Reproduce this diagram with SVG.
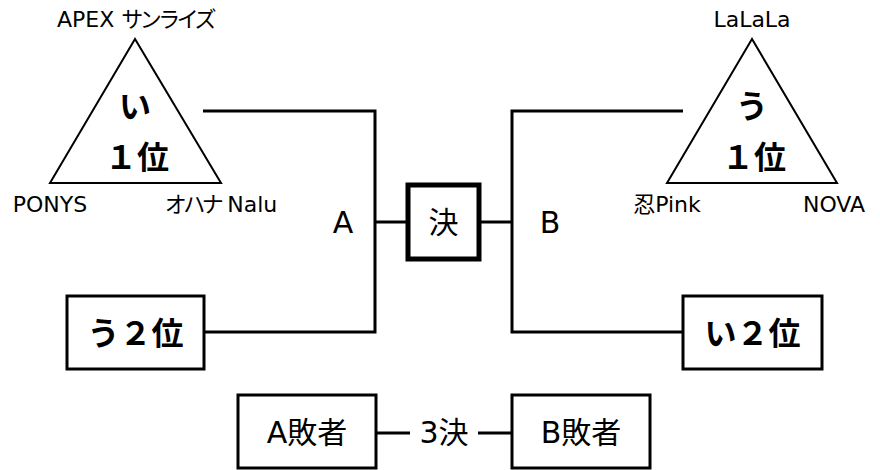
<svg xmlns="http://www.w3.org/2000/svg" width="880" height="470" viewBox="0 0 880 470">
<style>
text{font-family:"DejaVu Sans","Noto Sans CJK JP",sans-serif;fill:#000;text-anchor:middle;dominant-baseline:central}
.lbl{font-size:22px}
.kana{letter-spacing:-3.5px}
.mid{font-size:30px}
.big{font-family:"Noto Sans CJK JP","Noto Sans",sans-serif;font-size:32px;font-weight:bold}
.tri{fill:#fff;stroke:#000;stroke-width:2}
.box{fill:#fff;stroke:#000;stroke-width:3}
.thick{fill:#fff;stroke:#000;stroke-width:5}
.ln{fill:none;stroke:#000;stroke-width:3}
</style>
<rect width="880" height="470" fill="#fff"/>
<g id="connectors">
<polyline class="ln" points="203,111 375,111 375,332 205,332"/>
<line class="ln" x1="375" y1="222" x2="408" y2="222"/>
<polyline class="ln" points="683,111 512,111 512,332 683,332"/>
<line class="ln" x1="479" y1="222" x2="512" y2="222"/>
<line class="ln" x1="376" y1="433" x2="410" y2="433"/>
<line class="ln" x1="478" y1="433" x2="512" y2="433"/>
</g>
<g id="tri-i">
<polygon class="tri" points="135,39 50,183 221,183"/>
<text class="big" x="135" y="104">い</text>
<text class="big" x="137" y="155">１位</text>
<text class="lbl" x="135" y="19">APEX <tspan class="kana">サンライズ</tspan></text>
<text class="lbl" x="50" y="204">PONYS</text>
<text class="lbl" x="221" y="204"><tspan class="kana">オハナ</tspan> Nalu</text>
</g>
<g id="tri-u">
<polygon class="tri" points="752,39 667,183 837,183"/>
<text class="big" x="752" y="104">う</text>
<text class="big" x="754" y="155">１位</text>
<text class="lbl" x="752" y="19">LaLaLa</text>
<text class="lbl" x="667" y="204">忍Pink</text>
<text class="lbl" x="834" y="204">NOVA</text>
</g>
<g id="label-a"><text class="mid" x="343" y="222">A</text></g>
<g id="label-b"><text class="mid" x="550" y="222">B</text></g>
<g id="final">
<rect class="thick" x="408" y="185" width="71" height="74"/>
<text class="mid" x="443.5" y="222">決</text>
</g>
<g id="u2">
<rect class="box" x="67" y="296" width="137" height="73"/>
<text class="big" x="135.5" y="331">う２位</text>
</g>
<g id="i2">
<rect class="box" x="683" y="296" width="139" height="73"/>
<text class="big" x="752.5" y="331">い２位</text>
</g>
<g id="loserA">
<rect class="box" x="238" y="395" width="138" height="73"/>
<text class="mid" x="307" y="432">A敗者</text>
</g>
<g id="third"><text class="mid" x="444" y="432">3決</text></g>
<g id="loserB">
<rect class="box" x="512" y="395" width="138" height="73"/>
<text class="mid" x="581" y="432">B敗者</text>
</g>
</svg>
